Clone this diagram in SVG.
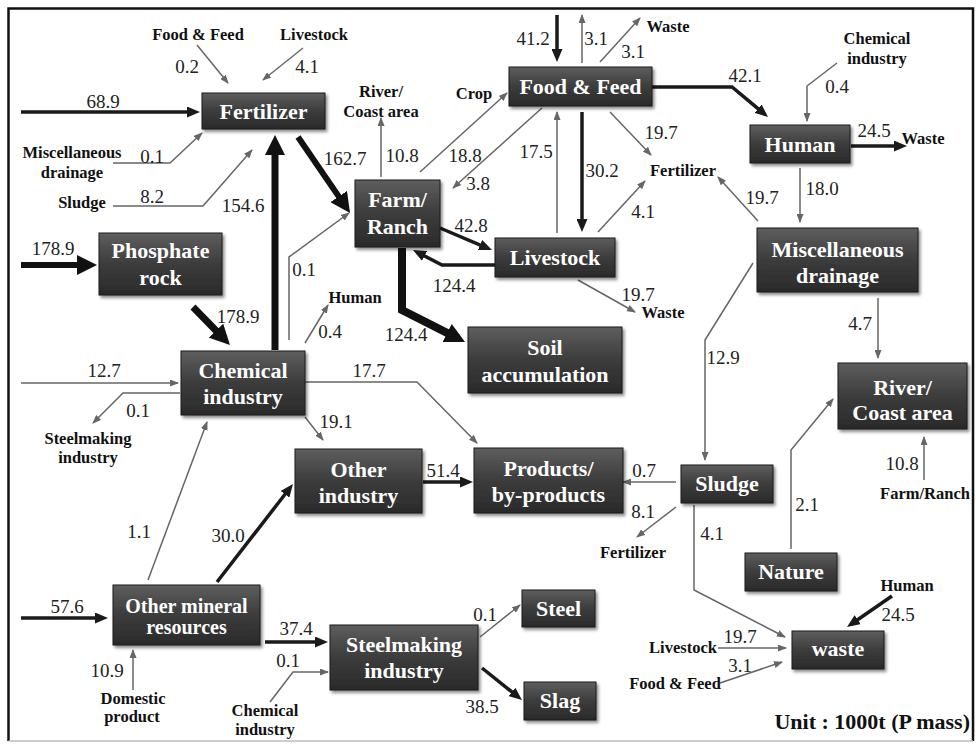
<svg xmlns="http://www.w3.org/2000/svg" width="976" height="744" viewBox="0 0 976 744">
<defs>
<style>
.n rect{fill:url(#ng);stroke:#1c1c1c;stroke-width:1;filter:url(#sh)}
.n text{font-weight:bold;font-size:22px;fill:#fff;text-anchor:middle}
.t{fill:none;stroke:#666;stroke-width:1.5;marker-end:url(#at)}
.m{fill:none;stroke:#1a1a1a;stroke-width:3.5;marker-end:url(#am)}
.h{fill:none;stroke:#111;marker-end:url(#ah)}
.num{font-size:19px;fill:#222;text-anchor:middle}
.lbl{font-weight:bold;font-size:16.5px;fill:#111;text-anchor:middle}
</style>
<linearGradient id="ng" x1="0" y1="0" x2="0" y2="1">
<stop offset="0" stop-color="#5e5e5e"/>
<stop offset="0.5" stop-color="#3c3c3c"/>
<stop offset="1" stop-color="#2a2a2a"/>
</linearGradient>
<filter id="sh" x="-10%" y="-10%" width="130%" height="140%">
<feDropShadow dx="2" dy="2.5" stdDeviation="1.5" flood-color="#000" flood-opacity="0.45"/>
</filter>
<marker id="at" markerUnits="userSpaceOnUse" markerWidth="9" markerHeight="7" viewBox="0 0 9 7" refX="8" refY="3.5" orient="auto"><path d="M0,0 L9,3.5 L0,7 z" fill="#666"/></marker>
<marker id="am" markerUnits="userSpaceOnUse" markerWidth="13" markerHeight="11" viewBox="0 0 13 11" refX="8" refY="5.5" orient="auto"><path d="M0,0 L13,5.5 L0,11 z" fill="#1a1a1a"/></marker>
<marker id="ah" markerUnits="userSpaceOnUse" markerWidth="20" markerHeight="20" viewBox="0 0 20 20" refX="12" refY="10" orient="auto"><path d="M0,0 L20,10 L0,20 z" fill="#111"/></marker>
</defs>
<rect x="0" y="0" width="976" height="744" fill="#fff"/>
<g id="frame" fill="none">
<path d="M8.5,741 L8.5,8.5 L973,8.5 L973,741" stroke="#111" stroke-width="2.5"/>
<path d="M8.5,741 L973,741" stroke="#bbb" stroke-width="1.5"/>
</g>

<g id="connectors">
<path class="t" d="M197,45 L228,83"/>
<path class="t" d="M303,48 L263,80"/>
<path class="t" d="M113,163 L170,163 L202,133"/>
<path class="t" d="M113,206 L203,206 L252,150"/>
<path class="t" d="M289,340 L289,257 L349,213"/>
<path class="t" d="M305,343 L328,305"/>
<path class="t" d="M21,383 L178,383"/>
<path class="t" d="M180,393 L123,393 L93,423"/>
<path class="t" d="M305,417 L323,440"/>
<path class="t" d="M305,382 L417,382 L477,443"/>
<path class="t" d="M148,580 L207,422"/>
<path class="t" d="M133,690 L133,650"/>
<path class="t" d="M270,702 L293,672 L328,672"/>
<path class="t" d="M480,637 L520,605"/>
<path class="t" d="M676,482 L623,482"/>
<path class="t" d="M676,507 L637,537"/>
<path class="t" d="M694,505 L694,590 L785,637"/>
<path class="t" d="M791,549 L791,450 L833,399"/>
<path class="t" d="M924,480 L924,437"/>
<path class="t" d="M878,298 L878,358"/>
<path class="t" d="M753,263 L705,340 L705,460"/>
<path class="t" d="M718,648 L786,648"/>
<path class="t" d="M720,683 L782,662"/>
<path class="t" d="M582,63 L582,15"/>
<path class="t" d="M600,62 L640,18"/>
<path class="t" d="M837,63 L807,86 L807,121"/>
<path class="t" d="M800,168 L800,222"/>
<path class="t" d="M758,221 L718,177"/>
<path class="t" d="M610,112 L651,155"/>
<path class="t" d="M598,232 L645,181"/>
<path class="t" d="M557,233 L557,112"/>
<path class="t" d="M578,280 L635,312"/>
<path class="t" d="M420,172 L507,93"/>
<path class="t" d="M542,108 L453,188"/>
<path class="t" d="M381,177 L381,118"/>

<path class="m" stroke-width="4" d="M21,112 L195,112"/>
<path class="m" stroke-width="4" d="M21,618 L103,618"/>
<path class="m" stroke-width="3" d="M265,642 L323,642"/>
<path class="m" stroke-width="3" d="M482,668 L518.1,696.9"/>
<path class="m" stroke-width="4" d="M423,482 L468,482"/>
<path class="m" stroke-width="3.5" d="M217,582 L289.9,488"/>
<path class="m" stroke-width="4" d="M440,228 L487.4,248.1"/>
<path class="m" stroke-width="3.5" d="M495,265 L442,265 L417.4,252.3"/>
<path class="m" stroke-width="3.5" d="M582,112 L582,227"/>
<path class="m" stroke-width="4" d="M557,15 L557,57"/>
<path class="m" stroke-width="3" d="M652,87 L732,87 L764.2,113.8"/>
<path class="m" stroke-width="3" d="M851,146 L902,146"/>
<path class="m" stroke-width="3" d="M892,596 L851.1,624.2"/>

<path class="h" stroke-width="6" d="M21,265 L89,265"/>
<path class="h" stroke-width="7" d="M193,307 L224.4,339.3"/>
<path class="h" stroke-width="7" d="M275,350 L275,143"/>
<path class="h" stroke-width="6" d="M298,137 L345.5,206.4"/>
<path class="h" stroke-width="8" d="M402,248 L402,310 L457.9,338.4"/>
</g>

<g id="flow-values" font-family="Liberation Serif, serif">
<text class="num" x="187" y="73">0.2</text>
<text class="num" x="307" y="73">4.1</text>
<text class="num" x="103" y="108">68.9</text>
<text class="num" x="152" y="163">0.1</text>
<text class="num" x="152" y="203">8.2</text>
<text class="num" x="243" y="212">154.6</text>
<text class="num" x="53" y="255">178.9</text>
<text class="num" x="238" y="323">178.9</text>
<text class="num" x="304" y="276">0.1</text>
<text class="num" x="330" y="338">0.4</text>
<text class="num" x="104" y="377">12.7</text>
<text class="num" x="138" y="417">0.1</text>
<text class="num" x="369" y="377">17.7</text>
<text class="num" x="336" y="428">19.1</text>
<text class="num" x="139" y="538">1.1</text>
<text class="num" x="228" y="542">30.0</text>
<text class="num" x="67" y="613">57.6</text>
<text class="num" x="107" y="677">10.9</text>
<text class="num" x="296" y="635">37.4</text>
<text class="num" x="288" y="667">0.1</text>
<text class="num" x="485" y="621">0.1</text>
<text class="num" x="482" y="713">38.5</text>
<text class="num" x="443" y="477">51.4</text>
<text class="num" x="644" y="477">0.7</text>
<text class="num" x="643" y="518">8.1</text>
<text class="num" x="712" y="540">4.1</text>
<text class="num" x="807" y="511">2.1</text>
<text class="num" x="902" y="470">10.8</text>
<text class="num" x="860" y="330">4.7</text>
<text class="num" x="723" y="364">12.9</text>
<text class="num" x="898" y="621">24.5</text>
<text class="num" x="740" y="643">19.7</text>
<text class="num" x="740" y="672">3.1</text>
<text class="num" x="533" y="45">41.2</text>
<text class="num" x="596" y="45">3.1</text>
<text class="num" x="633" y="58">3.1</text>
<text class="num" x="745" y="82">42.1</text>
<text class="num" x="837" y="93">0.4</text>
<text class="num" x="874" y="137">24.5</text>
<text class="num" x="822" y="195">18.0</text>
<text class="num" x="762" y="204">19.7</text>
<text class="num" x="661" y="139">19.7</text>
<text class="num" x="643" y="218">4.1</text>
<text class="num" x="602" y="177">30.2</text>
<text class="num" x="536" y="158">17.5</text>
<text class="num" x="638" y="301">19.7</text>
<text class="num" x="465" y="162">18.8</text>
<text class="num" x="478" y="190">3.8</text>
<text class="num" x="402" y="162">10.8</text>
<text class="num" x="345" y="165">162.7</text>
<text class="num" x="471" y="232">42.8</text>
<text class="num" x="454" y="292">124.4</text>
<text class="num" x="406" y="341">124.4</text>
</g>

<g id="endpoint-labels" font-family="Liberation Serif, serif">
<text class="lbl" x="198" y="40">Food &amp; Feed</text>
<text class="lbl" x="314" y="40">Livestock</text>
<text class="lbl" x="72" y="158">Miscellaneous</text>
<text class="lbl" x="72" y="178">drainage</text>
<text class="lbl" x="82" y="208">Sludge</text>
<text class="lbl" x="381" y="97">River/</text>
<text class="lbl" x="381" y="117">Coast area</text>
<text class="lbl" x="474" y="99">Crop</text>
<text class="lbl" x="668" y="32">Waste</text>
<text class="lbl" x="877" y="44">Chemical</text>
<text class="lbl" x="877" y="64">industry</text>
<text class="lbl" x="923" y="144">Waste</text>
<text class="lbl" x="683" y="176">Fertilizer</text>
<text class="lbl" x="663" y="318">Waste</text>
<text class="lbl" x="355" y="303">Human</text>
<text class="lbl" x="88" y="444">Steelmaking</text>
<text class="lbl" x="88" y="463">industry</text>
<text class="lbl" x="633" y="558">Fertilizer</text>
<text class="lbl" x="925" y="499">Farm/Ranch</text>
<text class="lbl" x="907" y="591">Human</text>
<text class="lbl" x="683" y="653">Livestock</text>
<text class="lbl" x="675" y="689">Food &amp; Feed</text>
<text class="lbl" x="133" y="704">Domestic</text>
<text class="lbl" x="132" y="722">product</text>
<text class="lbl" x="265" y="716">Chemical</text>
<text class="lbl" x="265" y="735">industry</text>
<text class="lbl" x="970" y="729" font-size="22" style="font-size:22px;text-anchor:end">Unit : 1000t (P mass)</text>
</g>

<g id="nodes" font-family="Liberation Serif, serif">
<g id="node-fertilizer" class="n"><rect x="202" y="93" width="123" height="36"/><text x="263.5" y="119">Fertilizer</text></g>
<g id="node-phosphate-rock" class="n"><rect x="99" y="233" width="123" height="62"/><text x="160.5" y="258">Phosphate</text><text x="160.5" y="285">rock</text></g>
<g id="node-chemical-industry" class="n"><rect x="181" y="351" width="124" height="64"/><text x="243" y="378">Chemical</text><text x="243" y="404">industry</text></g>
<g id="node-farm-ranch" class="n"><rect x="355" y="180" width="85" height="67"/><text x="397.5" y="207">Farm/</text><text x="397.5" y="234">Ranch</text></g>
<g id="node-food-feed" class="n"><rect x="509" y="67" width="143" height="39"/><text x="580.5" y="94">Food &amp; Feed</text></g>
<g id="node-livestock" class="n"><rect x="495" y="238" width="120" height="39"/><text x="555" y="265">Livestock</text></g>
<g id="node-human" class="n"><rect x="750" y="125" width="100" height="38"/><text x="800" y="152">Human</text></g>
<g id="node-misc-drainage" class="n"><rect x="757" y="228" width="161" height="64"/><text x="837.5" y="257">Miscellaneous</text><text x="837.5" y="283">drainage</text></g>
<g id="node-soil-accumulation" class="n"><rect x="468" y="327" width="154" height="66"/><text x="545" y="355">Soil</text><text x="545" y="382">accumulation</text></g>
<g id="node-river-coast" class="n"><rect x="838" y="363" width="129" height="66"/><text x="902.5" y="395">River/</text><text x="902.5" y="420">Coast area</text></g>
<g id="node-other-industry" class="n"><rect x="295" y="449" width="127" height="64"/><text x="358.5" y="477">Other</text><text x="358.5" y="503">industry</text></g>
<g id="node-products" class="n"><rect x="474" y="448" width="149" height="65"/><text x="548.5" y="476">Products/</text><text x="548.5" y="502">by-products</text></g>
<g id="node-sludge" class="n"><rect x="681" y="465" width="92" height="38"/><text x="727" y="491">Sludge</text></g>
<g id="node-nature" class="n"><rect x="745" y="553" width="92" height="38"/><text x="791" y="579">Nature</text></g>
<g id="node-waste" class="n"><rect x="792" y="631" width="92" height="38"/><text x="838" y="656">waste</text></g>
<g id="node-other-mineral" class="n"><rect x="113" y="585" width="147" height="60"/><text x="186.5" y="613" style="font-size:20px">Other mineral</text><text x="186.5" y="634" style="font-size:20px">resources</text></g>
<g id="node-steelmaking" class="n"><rect x="330" y="625" width="148" height="65"/><text x="404" y="652">Steelmaking</text><text x="404" y="678">industry</text></g>
<g id="node-steel" class="n"><rect x="522" y="590" width="73" height="37"/><text x="558.5" y="616">Steel</text></g>
<g id="node-slag" class="n"><rect x="524" y="682" width="72" height="38"/><text x="560" y="708">Slag</text></g>
</g>
</svg>
